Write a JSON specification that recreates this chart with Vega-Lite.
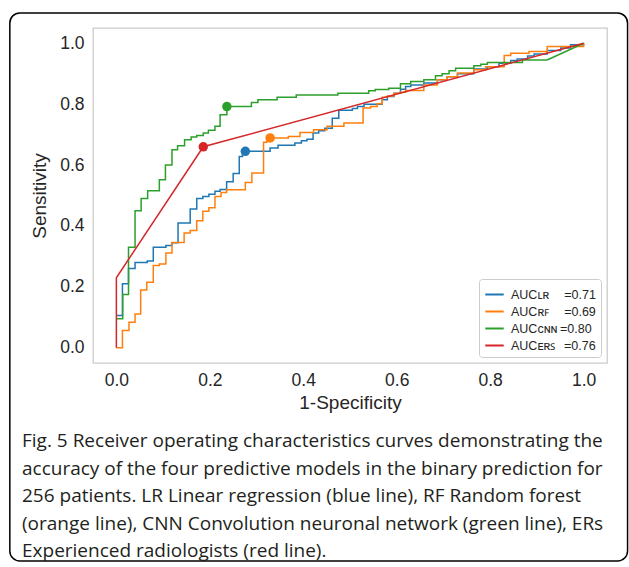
{
  "$schema": "https://vega.github.io/schema/vega-lite/v6.json",
  "width": 514,
  "height": 335,
  "autosize": {"type": "none"},
  "padding": {"left": 93, "top": 28, "right": 22, "bottom": 204},
  "background": "white",
  "datasets": {
    "steps": [
      {"m":"LR","x":0,"y":0.106},{"m":"LR","x":0.013,"y":0.21},{"m":"LR","x":0.026,"y":0.26},{"m":"LR","x":0.04,"y":0.28},{"m":"LR","x":0.066,"y":0.285},{"m":"LR","x":0.079,"y":0.33},{"m":"LR","x":0.106,"y":0.336},{"m":"LR","x":0.119,"y":0.345},{"m":"LR","x":0.132,"y":0.41},{"m":"LR","x":0.158,"y":0.456},{"m":"LR","x":0.172,"y":0.49},{"m":"LR","x":0.185,"y":0.497},{"m":"LR","x":0.198,"y":0.504},{"m":"LR","x":0.211,"y":0.514},{"m":"LR","x":0.222,"y":0.52},{"m":"LR","x":0.236,"y":0.545},{"m":"LR","x":0.25,"y":0.572},{"m":"LR","x":0.263,"y":0.628},{"m":"LR","x":0.27,"y":0.645},{"m":"LR","x":0.329,"y":0.656},{"m":"LR","x":0.346,"y":0.665},{"m":"LR","x":0.382,"y":0.672},{"m":"LR","x":0.396,"y":0.68},{"m":"LR","x":0.408,"y":0.685},{"m":"LR","x":0.421,"y":0.705},{"m":"LR","x":0.433,"y":0.713},{"m":"LR","x":0.446,"y":0.721},{"m":"LR","x":0.462,"y":0.754},{"m":"LR","x":0.476,"y":0.78},{"m":"LR","x":0.505,"y":0.786},{"m":"LR","x":0.516,"y":0.792},{"m":"LR","x":0.53,"y":0.8},{"m":"LR","x":0.569,"y":0.814},{"m":"LR","x":0.58,"y":0.825},{"m":"LR","x":0.594,"y":0.836},{"m":"LR","x":0.608,"y":0.849},{"m":"LR","x":0.619,"y":0.858},{"m":"LR","x":0.63,"y":0.863},{"m":"LR","x":0.658,"y":0.869},{"m":"LR","x":0.687,"y":0.88},{"m":"LR","x":0.708,"y":0.89},{"m":"LR","x":0.73,"y":0.9},{"m":"LR","x":0.765,"y":0.915},{"m":"LR","x":0.794,"y":0.923},{"m":"LR","x":0.819,"y":0.934},{"m":"LR","x":0.844,"y":0.943},{"m":"LR","x":0.858,"y":0.948},{"m":"LR","x":0.88,"y":0.958},{"m":"LR","x":0.894,"y":0.965},{"m":"LR","x":0.922,"y":0.976},{"m":"LR","x":0.951,"y":0.984},{"m":"LR","x":0.972,"y":0.995},{"m":"LR","x":1.0,"y":1.0},
      {"m":"RF","x":0,"y":0},{"m":"RF","x":0.013,"y":0.057},{"m":"RF","x":0.027,"y":0.084},{"m":"RF","x":0.04,"y":0.111},{"m":"RF","x":0.052,"y":0.19},{"m":"RF","x":0.065,"y":0.215},{"m":"RF","x":0.079,"y":0.27},{"m":"RF","x":0.092,"y":0.275},{"m":"RF","x":0.106,"y":0.311},{"m":"RF","x":0.119,"y":0.346},{"m":"RF","x":0.145,"y":0.377},{"m":"RF","x":0.158,"y":0.385},{"m":"RF","x":0.172,"y":0.417},{"m":"RF","x":0.185,"y":0.448},{"m":"RF","x":0.198,"y":0.46},{"m":"RF","x":0.211,"y":0.497},{"m":"RF","x":0.224,"y":0.51},{"m":"RF","x":0.236,"y":0.519},{"m":"RF","x":0.276,"y":0.543},{"m":"RF","x":0.29,"y":0.574},{"m":"RF","x":0.315,"y":0.675},{"m":"RF","x":0.322,"y":0.683},{"m":"RF","x":0.329,"y":0.689},{"m":"RF","x":0.368,"y":0.694},{"m":"RF","x":0.393,"y":0.707},{"m":"RF","x":0.422,"y":0.716},{"m":"RF","x":0.451,"y":0.727},{"m":"RF","x":0.487,"y":0.738},{"m":"RF","x":0.528,"y":0.787},{"m":"RF","x":0.544,"y":0.792},{"m":"RF","x":0.558,"y":0.801},{"m":"RF","x":0.569,"y":0.823},{"m":"RF","x":0.58,"y":0.827},{"m":"RF","x":0.594,"y":0.836},{"m":"RF","x":0.608,"y":0.839},{"m":"RF","x":0.619,"y":0.845},{"m":"RF","x":0.658,"y":0.863},{"m":"RF","x":0.687,"y":0.88},{"m":"RF","x":0.708,"y":0.89},{"m":"RF","x":0.73,"y":0.902},{"m":"RF","x":0.765,"y":0.913},{"m":"RF","x":0.79,"y":0.923},{"m":"RF","x":0.83,"y":0.96},{"m":"RF","x":0.844,"y":0.967},{"m":"RF","x":0.883,"y":0.973},{"m":"RF","x":0.922,"y":0.989},{"m":"RF","x":1.0,"y":1.0},
      {"m":"CNN","x":0,"y":0.095},{"m":"CNN","x":0.0136,"y":0.175},{"m":"CNN","x":0.026,"y":0.33},{"m":"CNN","x":0.04,"y":0.45},{"m":"CNN","x":0.053,"y":0.49},{"m":"CNN","x":0.067,"y":0.516},{"m":"CNN","x":0.092,"y":0.552},{"m":"CNN","x":0.105,"y":0.6},{"m":"CNN","x":0.119,"y":0.65},{"m":"CNN","x":0.131,"y":0.663},{"m":"CNN","x":0.146,"y":0.683},{"m":"CNN","x":0.16,"y":0.692},{"m":"CNN","x":0.172,"y":0.697},{"m":"CNN","x":0.186,"y":0.705},{"m":"CNN","x":0.197,"y":0.714},{"m":"CNN","x":0.211,"y":0.727},{"m":"CNN","x":0.222,"y":0.765},{"m":"CNN","x":0.2365,"y":0.792},{"m":"CNN","x":0.289,"y":0.805},{"m":"CNN","x":0.303,"y":0.814},{"m":"CNN","x":0.344,"y":0.823},{"m":"CNN","x":0.385,"y":0.83},{"m":"CNN","x":0.474,"y":0.836},{"m":"CNN","x":0.54,"y":0.844},{"m":"CNN","x":0.554,"y":0.848},{"m":"CNN","x":0.583,"y":0.852},{"m":"CNN","x":0.608,"y":0.867},{"m":"CNN","x":0.63,"y":0.874},{"m":"CNN","x":0.658,"y":0.88},{"m":"CNN","x":0.683,"y":0.893},{"m":"CNN","x":0.697,"y":0.9},{"m":"CNN","x":0.712,"y":0.91},{"m":"CNN","x":0.726,"y":0.918},{"m":"CNN","x":0.765,"y":0.926},{"m":"CNN","x":0.78,"y":0.931},{"m":"CNN","x":0.794,"y":0.937},{"m":"CNN","x":0.869,"y":0.945},{"m":"CNN","x":0.922,"y":0.945}
    ],
    "lines": [
      {"m":"CNN","x":0.922,"y":0.945},{"m":"CNN","x":1.0,"y":1.0},
      {"m":"ERs","x":0,"y":0},{"m":"ERs","x":0,"y":0.23},{"m":"ERs","x":0.186,"y":0.66},{"m":"ERs","x":1.0,"y":1.0}
    ],
    "dots": [
      {"m":"LR","x":0.276,"y":0.645},{"m":"RF","x":0.329,"y":0.689},{"m":"CNN","x":0.2365,"y":0.792},{"m":"ERs","x":0.186,"y":0.66}
    ],
    "frame": [{}]
  },
  "title": {
    "text": [
      "Fig. 5 Receiver operating characteristics curves demonstrating the",
      "accuracy of the four predictive models in the binary prediction for",
      "256 patients. LR Linear regression (blue line), RF Random forest",
      "(orange line), CNN Convolution neuronal network (green line), ERs",
      "Experienced radiologists (red line)."
    ],
    "orient": "bottom",
    "anchor": "start",
    "frame": "group",
    "dx": -71,
    "offset": -129.5,
    "font": "Open Sans",
    "fontSize": 19,
    "fontWeight": "normal",
    "color": "#231f20",
    "lineHeight": 27.5
  },
  "layer": [
    {
      "data": {"name": "frame"},
      "mark": {"type": "rect", "cornerRadius": 10, "stroke": "black", "strokeWidth": 1.5, "fillOpacity": 0, "fill": "white"},
      "encoding": {
        "x": {"datum": -0.228, "type": "quantitative"},
        "x2": {"datum": 1.094},
        "y": {"datum": 1.0995, "type": "quantitative"},
        "y2": {"datum": -0.7}
      }
    },
    {
      "data": {"name": "steps"},
      "mark": {"type": "line", "interpolate": "step-after", "strokeWidth": 1.5},
      "encoding": {
        "x": {"field": "x", "type": "quantitative"},
        "y": {"field": "y", "type": "quantitative"},
        "color": {"field": "m", "type": "nominal"},
        "order": {"value": null}
      }
    },
    {
      "data": {"name": "lines"},
      "mark": {"type": "line", "interpolate": "linear", "strokeWidth": 1.5},
      "encoding": {
        "x": {"field": "x", "type": "quantitative"},
        "y": {"field": "y", "type": "quantitative"},
        "color": {"field": "m", "type": "nominal"},
        "order": {"value": null}
      }
    },
    {
      "data": {"name": "dots"},
      "mark": {"type": "point", "filled": true, "size": 90, "opacity": 1},
      "encoding": {
        "x": {"field": "x", "type": "quantitative"},
        "y": {"field": "y", "type": "quantitative"},
        "color": {"field": "m", "type": "nominal", "legend": null}
      }
    }
  ],
  "resolve": {"scale": {"color": "shared"}},
  "encoding": {
    "x": {
      "type": "quantitative",
      "scale": {"domain": [-0.05, 1.05], "nice": false, "zero": false},
      "axis": {"title": "1-Specificity", "values": [0, 0.2, 0.4, 0.6, 0.8, 1.0], "format": ".1f", "labelPadding": 8, "titlePadding": 5, "labelFlush": false}
    },
    "y": {
      "type": "quantitative",
      "scale": {"domain": [-0.05, 1.05], "nice": false, "zero": false},
      "axis": {"title": "Sensitivity", "values": [0, 0.2, 0.4, 0.6, 0.8, 1.0], "format": ".1f", "labelPadding": 9, "titlePadding": 10, "labelFlush": false}
    },
    "color": {
      "type": "nominal",
      "scale": {"domain": ["LR", "RF", "CNN", "ERs"], "range": ["#1f77b4", "#ff7f0e", "#2ca02c", "#d62728"]},
      "legend": {
        "title": null,
        "orient": "bottom-right",
        "offset": 6,
        "labelExpr": "datum.label == 'LR' ? 'AUCʟʀ\u2002\u2002\u2009=0.71' : datum.label == 'RF' ? 'AUCʀꜰ\u2002\u2002\u2009=0.69' : datum.label == 'CNN' ? 'AUCᴄɴɴ\u2009=0.80' : 'AUCᴇʀꜱ\u2002\u2009=0.76'"
      }
    }
  },
  "config": {
    "font": "Liberation Sans",
    "view": {"stroke": "#cccccc", "strokeWidth": 1.3},
    "axis": {
      "domain": false,
      "ticks": false,
      "grid": false,
      "labelFont": "Liberation Sans",
      "labelFontSize": 17.5,
      "labelColor": "#262626",
      "titleFont": "Liberation Sans",
      "titleFontSize": 19,
      "titleFontWeight": "normal",
      "titleColor": "#262626"
    },
    "legend": {
      "strokeColor": "#cccccc",
      "fillColor": "white",
      "cornerRadius": 3,
      "padding": 5,
      "symbolType": "stroke",
      "symbolStrokeWidth": 2,
      "symbolSize": 340,
      "labelFont": "Liberation Sans",
      "labelFontSize": 12.5,
      "labelColor": "#262626",
      "rowPadding": -3,
      "labelOffset": 6
    }
  }
}
